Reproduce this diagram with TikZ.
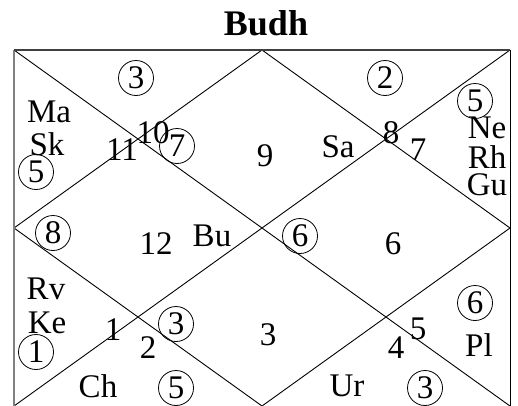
\documentclass[tikz,border=0pt]{standalone}
\usepackage{fontspec}
\setmainfont{Liberation Serif}
\begin{document}
\begin{tikzpicture}[x=1pt,y=-1pt,
  lbl/.style={inner sep=0pt,font=\fontsize{33}{33}\selectfont},
  cnum/.style={circle,draw,line width=0.8pt,minimum size=35pt,inner sep=0pt,font=\fontsize{33}{33}\selectfont},
  chartline/.style={line width=0.9pt,black},
]
\useasboundingbox (0,0) rectangle (518,405);
\begin{scope}
\clip (0,0) rectangle (518,405);
\coordinate (TL) at (14,50);
\coordinate (TR) at (510,50);
\coordinate (BL) at (14,406);
\coordinate (BR) at (510,406);
\coordinate (TM) at (262,50);
\coordinate (RM) at (510,228);
\coordinate (BM) at (262,406);
\coordinate (LM) at (14,228);
\draw[chartline] (TL) -- (BR);
\draw[chartline] (TR) -- (BL);
\draw[chartline] (TM) -- (RM) -- (BM) -- (LM) -- cycle;
\draw[chartline] (TR) -- (BR);
\draw[line width=1.4pt,black!50] (TL) -- (BL);
\draw[line width=2.6pt,black!75] (TL) -- (TR);
\end{scope}

\node[inner sep=0pt,font=\fontsize{36}{36}\selectfont\bfseries] (title) at (266,23) {Budh};

% top-left triangle
\node[cnum] (c3a) at (136,78) {3};
% left upper triangle
\node[lbl] (ma) at (49,112) {Ma};
\node[lbl] (sk) at (47,144) {Sk};
\node[cnum] (c5a) at (36,172) {5};
\node[lbl] (h11) at (122,150) {11};
% top diamond
\node[lbl] (h10) at (153,133) {10};
\node[cnum] (c7) at (177,146) {7};
\node[lbl] (h9) at (265,156) {9};
\node[lbl] (sa) at (338,147) {Sa};
\node[lbl] (h8) at (391,133) {8};
% top-right triangle
\node[cnum] (c2) at (385,78) {2};
% right upper triangle
\node[lbl] (h7) at (418,150) {7};
\node[cnum] (c5b) at (475,101) {5};
\node[lbl] (ne) at (487,128) {Ne};
\node[lbl] (rh) at (487,157) {Rh};
\node[lbl] (gu) at (487,185) {Gu};
% left diamond
\node[cnum] (c8) at (53,233) {8};
\node[lbl] (h12) at (156,244) {12};
\node[lbl] (bu) at (212,236) {Bu};
% right diamond
\node[cnum] (c6a) at (300,236) {6};
\node[lbl] (h6) at (393,244) {6};
% left lower triangle
\node[lbl] (rv) at (46,289) {Rv};
\node[lbl] (ke) at (47,323) {Ke};
\node[cnum] (c1) at (36,352) {1};
\node[lbl] (h1) at (113,330) {1};
% bottom-left triangle
\node[lbl] (h2) at (148,348) {2};
\node[cnum] (c3b) at (176,324) {3};
\node[lbl] (ch) at (98,386) {Ch};
\node[cnum] (c5c) at (176,388) {5};
% bottom diamond
\node[lbl] (h3) at (268,335) {3};
\node[lbl] (ur) at (347,386) {Ur};
\node[lbl] (h4) at (396,348) {4};
\node[cnum] (c3c) at (425,388) {3};
% right lower triangle
\node[lbl] (h5) at (418,329) {5};
\node[cnum] (c6b) at (475,303) {6};
\node[lbl] (pl) at (479,345) {Pl};
\end{tikzpicture}
\end{document}
